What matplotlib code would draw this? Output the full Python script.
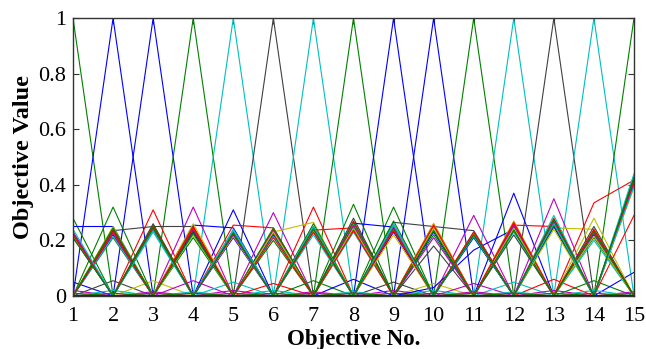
import matplotlib
matplotlib.use("Agg")
import matplotlib.pyplot as plt

plt.rcParams['font.family'] = ['Liberation Serif', 'DejaVu Serif']

objectives = list(range(1, 16))
x_ticks = list(range(1, 16))
y_ticks = [0, 0.2, 0.4, 0.6, 0.8, 1]
y_tick_labels = ["0", "0.2", "0.4", "0.6", "0.8", "1"]

# MATLAB classic colour order
C = {'b': (0, 0, 1), 'g': (0, 0.5, 0), 'r': (1, 0, 0), 'c': (0, 0.75, 0.75),
     'm': (0.75, 0, 0.75), 'y': (0.75, 0.75, 0), 'k': (0.25, 0.25, 0.25)}

# extreme solutions: value 1 on one objective
extreme_obj = [1, 2, 3, 4, 5, 6, 7, 8, 9, 10, 11, 12, 13, 14, 15]
extreme_colors = ['g', 'b', 'b', 'g', 'c', 'k', 'c', 'g', 'b', 'b', 'g', 'c', 'k', 'c', 'g']

# zig-zag solutions peaking on odd objectives
odd_rows = [
    [0.22, 0, 0.25, 0, 0.22, 0, 0.24, 0, 0.24, 0, 0.22, 0, 0.26, 0, 0.41],
    [0.21, 0, 0.24, 0, 0.21, 0, 0.23, 0, 0.23, 0, 0.21, 0, 0.25, 0, 0.40],
    [0.23, 0, 0.26, 0, 0.23, 0, 0.25, 0, 0.25, 0, 0.23, 0, 0.27, 0, 0.43],
    [0.22, 0, 0.23, 0, 0.24, 0, 0.22, 0, 0.26, 0, 0.22, 0, 0.29, 0, 0.44],
    [0.215, 0, 0.245, 0, 0.215, 0, 0.235, 0, 0.22, 0, 0.225, 0, 0.24, 0, 0.39],
    [0.225, 0, 0.255, 0, 0.225, 0, 0.26, 0, 0.245, 0, 0.215, 0, 0.255, 0, 0.42],
    [0.23, 0, 0.24, 0, 0.22, 0, 0.245, 0, 0.25, 0, 0.22, 0, 0.265, 0, 0.405],
    [0.22, 0, 0.25, 0, 0.23, 0, 0.23, 0, 0.235, 0, 0.23, 0, 0.28, 0, 0.415],
    [0.24, 0, 0.235, 0, 0.235, 0, 0.25, 0, 0.255, 0, 0.215, 0, 0.26, 0, 0.395],
    [0.21, 0, 0.245, 0, 0.225, 0, 0.24, 0, 0.27, 0, 0.22, 0, 0.275, 0, 0.425],
]
odd_colors = ['r', 'b', 'k', 'c', 'y', 'g', 'm', 'r', 'c', 'g']

# zig-zag solutions peaking on even objectives
even_rows = [
    [0, 0.22, 0, 0.23, 0, 0.22, 0, 0.25, 0, 0.23, 0, 0.25, 0, 0.22, 0],
    [0, 0.21, 0, 0.21, 0, 0.20, 0, 0.24, 0, 0.22, 0, 0.24, 0, 0.21, 0],
    [0, 0.24, 0, 0.25, 0, 0.24, 0, 0.27, 0, 0.25, 0, 0.26, 0, 0.24, 0],
    [0, 0.23, 0, 0.26, 0, 0.23, 0, 0.26, 0, 0.26, 0, 0.27, 0, 0.23, 0],
    [0, 0.215, 0, 0.22, 0, 0.215, 0, 0.23, 0, 0.24, 0, 0.23, 0, 0.20, 0],
    [0, 0.225, 0, 0.24, 0, 0.235, 0, 0.255, 0, 0.21, 0, 0.255, 0, 0.225, 0],
    [0, 0.235, 0, 0.235, 0, 0.225, 0, 0.28, 0, 0.18, 0, 0.22, 0, 0.25, 0],
    [0, 0.25, 0, 0.22, 0, 0.23, 0, 0.245, 0, 0.245, 0, 0.245, 0, 0.215, 0],
    [0, 0.23, 0, 0.245, 0, 0.21, 0, 0.235, 0, 0.255, 0, 0.265, 0, 0.235, 0],
    [0, 0.245, 0, 0.225, 0, 0.245, 0, 0.265, 0, 0.235, 0, 0.235, 0, 0.23, 0],
]
even_colors = ['b', 'g', 'r', 'y', 'c', 'm', 'k', 'y', 'r', 'g']

# single higher peaks
high_obj = [1, 2, 3, 4, 5, 6, 7, 8, 9, 10, 11, 12, 13, 14]
high_val = [0.28, 0.32, 0.31, 0.32, 0.31, 0.30, 0.32, 0.33, 0.32, 0.26, 0.29, 0.37, 0.35, 0.28]
high_colors = ['g', 'g', 'r', 'm', 'b', 'm', 'r', 'g', 'g', 'r', 'm', 'b', 'm', 'y']

# single small peaks
low_obj = [1, 2, 3, 4, 5, 6, 7, 8, 9, 10, 11, 12, 13, 14, 15]
low_val = [0.05, 0.055, 0.055, 0.055, 0.05, 0.045, 0.055, 0.06, 0.05, 0.045, 0.045, 0.05, 0.06, 0.055, 0.085]
low_colors = ['b', 'k', 'y', 'm', 'c', 'r', 'g', 'b', 'k', 'y', 'm', 'c', 'r', 'g', 'b']

# bridging solutions
bridge_rows = [
    [0.25, 0.25, 0, 0, 0, 0, 0, 0, 0, 0, 0, 0, 0, 0, 0],
    [0, 0.235, 0.25, 0.25, 0, 0, 0, 0, 0, 0, 0, 0, 0, 0, 0],
    [0, 0, 0, 0.255, 0.245, 0, 0, 0, 0, 0, 0, 0, 0, 0, 0],
    [0, 0, 0, 0, 0.255, 0.245, 0, 0, 0, 0, 0, 0, 0, 0, 0],
    [0, 0, 0, 0, 0, 0.23, 0.265, 0, 0, 0, 0, 0, 0, 0, 0],
    [0, 0, 0, 0, 0, 0, 0.237, 0.245, 0, 0, 0, 0, 0, 0, 0],
    [0, 0, 0, 0, 0, 0, 0, 0.262, 0.248, 0, 0, 0, 0, 0, 0],
    [0, 0, 0, 0, 0, 0, 0, 0, 0.265, 0.25, 0.235, 0, 0, 0, 0],
    [0, 0, 0, 0, 0, 0, 0, 0, 0, 0.03, 0.165, 0.24, 0, 0, 0],
    [0, 0, 0, 0, 0, 0, 0, 0, 0, 0, 0, 0.255, 0.25, 0, 0],
    [0, 0, 0, 0, 0, 0, 0, 0, 0, 0, 0, 0, 0.245, 0.24, 0],
    [0, 0, 0, 0, 0, 0, 0, 0, 0, 0, 0, 0, 0, 0.335, 0.417],
    [0, 0, 0, 0, 0, 0, 0, 0, 0, 0, 0, 0, 0, 0, 0.29],
]
bridge_colors = ['b', 'k', 'b', 'r', 'y', 'r', 'b', 'k', 'b', 'r', 'y', 'r', 'r']

# tiny zig-zags near zero
tiny_rows = [
    [0.02, 0, 0.015, 0, 0.02, 0, 0.015, 0, 0.02, 0, 0.015, 0, 0.02, 0, 0.015],
    [0, 0.02, 0, 0.015, 0, 0.02, 0, 0.015, 0, 0.02, 0, 0.015, 0, 0.02, 0],
    [0.01, 0, 0.01, 0, 0.01, 0, 0.01, 0, 0.01, 0, 0.01, 0, 0.01, 0, 0.01],
    [0, 0.01, 0, 0.01, 0, 0.01, 0, 0.01, 0, 0.01, 0, 0.01, 0, 0.01, 0],
]
tiny_colors = ['m', 'c', 'r', 'g']

zero_row = [0] * 15

fig = plt.figure(figsize=(6.46, 3.49), dpi=100)
ax = fig.add_axes([0.113, 0.152, 0.8684, 0.796])
lw = 0.8

def plot_row(vals, col, width=lw):
    ax.plot(objectives, vals, color=C[col], lw=width)

for k, col in zip(extreme_obj, extreme_colors):
    plot_row([1 if o == k else 0 for o in objectives], col)
for k, v, col in zip(low_obj, low_val, low_colors):
    plot_row([v if o == k else 0 for o in objectives], col)
for k, v, col in zip(high_obj, high_val, high_colors):
    plot_row([v if o == k else 0 for o in objectives], col)
for row, col in zip(tiny_rows, tiny_colors):
    plot_row(row, col)
for row, col in zip(bridge_rows, bridge_colors):
    plot_row(row, col)
for row, col in zip(even_rows, even_colors):
    plot_row(row, col)
for row, col in zip(odd_rows, odd_colors):
    plot_row(row, col)
plot_row(zero_row, 'g')
plot_row(zero_row, 'b', 1.2)

ax.set_xlim(1, 15)
ax.set_ylim(0, 1)
ax.set_xticks(x_ticks)
ax.set_xticklabels([str(t) for t in x_ticks])
ax.set_yticks(y_ticks)
ax.set_yticklabels(y_tick_labels)
ax.tick_params(direction='in', length=4, width=0.8, labelsize=16, top=True, right=True,
               color='#333333')
ax.tick_params(axis='x', pad=8)
ax.tick_params(axis='y', pad=5)
for s in ax.spines.values():
    s.set_linewidth(1.0)
    s.set_color('#333333')
ax.set_xlabel('Objective No.', fontsize=16.5, fontweight='bold', labelpad=2)
ax.set_ylabel('Objective Value', fontsize=17.5, fontweight='bold', labelpad=3)

fig.savefig('out.png', dpi=100)
